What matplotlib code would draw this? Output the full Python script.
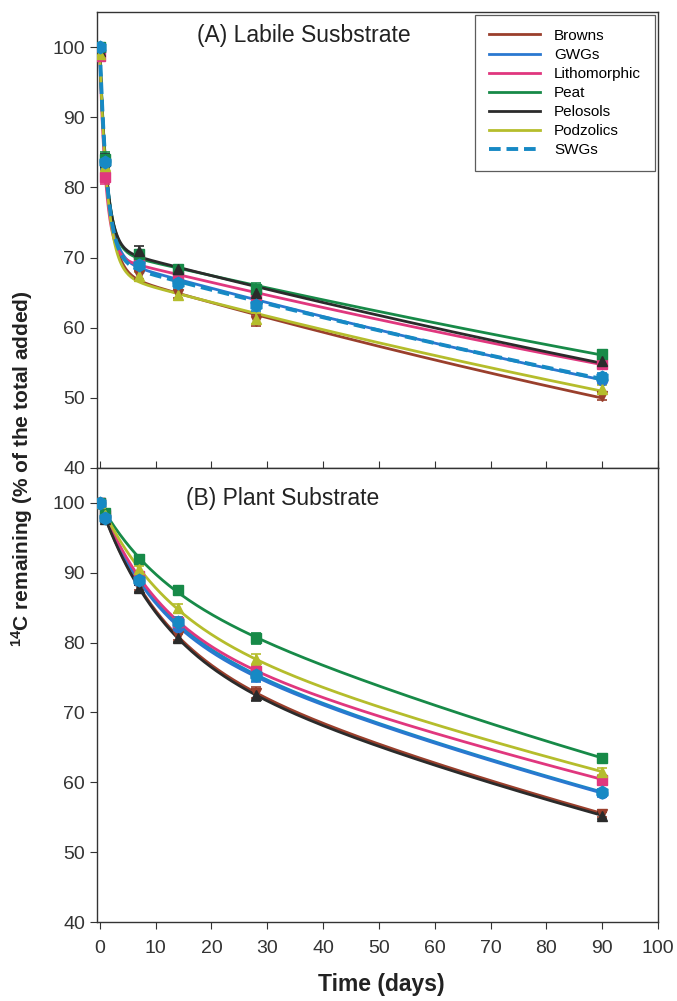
import numpy as np
import matplotlib
matplotlib.use("Agg")
import matplotlib.pyplot as plt
from matplotlib.lines import Line2D

plt.rcParams['font.family'] = ['Liberation Sans', 'DejaVu Sans']
plt.rcParams['mathtext.fontset'] = 'custom'
plt.rcParams['mathtext.rm'] = 'Liberation Sans'
plt.rcParams['mathtext.bf'] = 'Liberation Sans:bold'

# sampling times (days)
days = [0, 1, 7, 14, 28, 90]

soils = ["Browns", "GWGs", "Lithomorphic", "Peat", "Pelosols", "Podzolics", "SWGs"]

# (A) labile substrate, % 14C remaining
labile = {
    "Browns":       [99.0, 83.5, 67.5, 64.8, 61.0, 50.3],
    "GWGs":         [99.5, 83.8, 69.3, 66.5, 63.6, 52.6],
    "Lithomorphic": [98.8, 81.5, 69.5, 67.4, 64.6, 54.8],
    "Peat":         [100.0, 84.0, 70.5, 68.3, 65.5, 56.2],
    "Pelosols":     [99.5, 83.7, 71.0, 68.3, 65.0, 55.3],
    "Podzolics":    [99.0, 83.0, 67.3, 64.6, 61.3, 51.2],
    "SWGs":         [100.0, 83.6, 69.0, 66.3, 63.2, 52.9],
}
labile_err = [0.5, 1.0, 0.6, 0.6, 0.8, 0.6]

# (B) plant substrate, % 14C remaining
plant = {
    "Browns":       [100.0, 97.8, 88.0, 81.0, 72.8, 55.5],
    "GWGs":         [100.0, 98.0, 88.8, 82.3, 75.2, 58.4],
    "Lithomorphic": [100.0, 98.2, 89.5, 83.0, 76.0, 60.4],
    "Peat":         [100.0, 98.5, 92.0, 87.5, 80.6, 63.5],
    "Pelosols":     [100.0, 97.7, 87.8, 80.7, 72.5, 55.2],
    "Podzolics":    [100.0, 98.3, 90.5, 84.9, 77.6, 61.5],
    "SWGs":         [100.0, 97.9, 89.0, 83.0, 75.3, 58.6],
}
plant_err = [0.3, 0.5, 0.5, 0.6, 0.8, 0.5]

colors = {
    "Browns": "#9a3f2c",
    "GWGs": "#2a78d0",
    "Lithomorphic": "#e0377e",
    "Peat": "#178a48",
    "Pelosols": "#2b2b2b",
    "Podzolics": "#b5bd2c",
    "SWGs": "#1789c4",
}
markers = {
    "Browns": "v", "GWGs": "o", "Lithomorphic": "s", "Peat": "s",
    "Pelosols": "^", "Podzolics": "^", "SWGs": "h",
}


def fit_double_exp(t, y):
    # least-squares fit y = a*exp(-k1 t) + b*exp(-k2 t), grid over rates
    t = np.asarray(t, float)
    y = np.asarray(y, float)
    k1 = np.logspace(-2, 1, 300)
    k2 = np.logspace(-4.5, -1, 300)
    E1 = np.exp(-k1[:, None] * t[None, :])
    E2 = np.exp(-k2[:, None] * t[None, :])
    S11 = (E1 ** 2).sum(1)[:, None]
    S22 = (E2 ** 2).sum(1)[None, :]
    S12 = E1 @ E2.T
    b1 = (E1 @ y)[:, None]
    b2 = (E2 @ y)[None, :]
    det = S11 * S22 - S12 ** 2
    ok = det > 1e-9
    det = np.where(ok, det, 1.0)
    a = (b1 * S22 - b2 * S12) / det
    b = (S11 * b2 - S12 * b1) / det
    sse = y @ y - a * b1 - b * b2
    sse = np.where(ok & (a > -1) & (b > 0), sse, np.inf)
    i, j = np.unravel_index(np.argmin(sse), sse.shape)
    tt = np.linspace(0, 90, 400)
    return tt, a[i, j] * np.exp(-k1[i] * tt) + b[i, j] * np.exp(-k2[j] * tt)


fig = plt.figure(figsize=(6.77, 10.01), dpi=100)
axA = fig.add_axes([0.1433, 0.5325, 0.8287, 0.4555])
axB = fig.add_axes([0.1433, 0.0789, 0.8287, 0.4536])

for ax, data, err, dashed in [(axA, labile, labile_err, True), (axB, plant, plant_err, False)]:
    for s in soils:
        c = colors[s]
        tt, yy = fit_double_exp(days, data[s])
        if s == "SWGs":
            ls = (0, (3, 1.5)) if dashed else "-"
            lw = 2.8 if dashed else 2.0
            z = 4 if dashed else 2
        else:
            ls, lw, z = "-", 2.0, 3
        ax.plot(tt, yy, color=c, lw=lw, ls=ls, zorder=z)
        ax.errorbar(days, data[s], yerr=err, fmt=markers[s], color=c, ms=9 if s == "SWGs" else 7.5,
                    ecolor=c, elinewidth=1.2, capsize=3.5, capthick=1.2, zorder=5)
    ax.set_xlim(-0.5, 100)
    ax.set_ylim(40, 105)
    ax.set_yticks(range(40, 101, 10))
    ax.set_xticks(range(0, 101, 10))
    for sp in ax.spines.values():
        sp.set_color("#333333")
        sp.set_linewidth(1.0)
    ax.tick_params(axis="y", direction="out", length=5, labelsize=14, colors="#333333")
    ax.tick_params(axis="x", length=5, labelsize=14, colors="#333333")

axA.tick_params(axis="x", direction="in", labelbottom=False)
axB.tick_params(axis="x", direction="out", pad=8)

axA.text(17.5, 101.6, "(A) Labile Susbstrate", fontsize=16.5, color="#222222", va="center")
axB.text(15.5, 100.7, "(B) Plant Substrate", fontsize=16.5, color="#222222", va="center")

handles = []
for s in soils:
    if s == "SWGs":
        handles.append(Line2D([], [], color=colors[s], lw=2.8, ls=(0, (3, 1.5))))
    else:
        handles.append(Line2D([], [], color=colors[s], lw=2.0))
leg = axA.legend(handles, soils, loc="upper right", fontsize=11, frameon=True, fancybox=False,
                 borderaxespad=0.2, handlelength=3.4, labelspacing=0.33, borderpad=0.9,
                 handletextpad=0.9)
leg.get_frame().set_edgecolor("#333333")
leg.get_frame().set_linewidth(0.9)

fig.text(0.563, 0.016, "Time (days)", fontsize=16.5, fontweight="bold", ha="center", va="center",
         color="#222222")
fig.text(0.033, 0.532, r"$\mathbf{^{14}}$C remaining (% of the total added)", fontsize=15,
         fontweight="bold", rotation=90, ha="center", va="center", color="#222222")

fig.savefig("out.png", dpi=100)
